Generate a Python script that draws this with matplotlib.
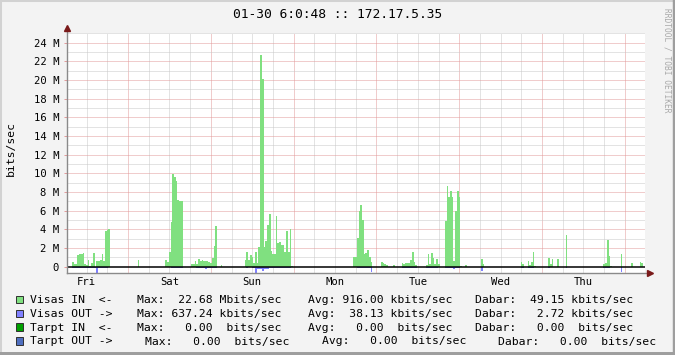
"""
Weekly traffic graph (rrdtool style) for 172.17.5.35.
"""

import numpy as np
import matplotlib
matplotlib.use("Agg")
import matplotlib.pyplot as plt
from matplotlib.patches import Rectangle
from matplotlib.lines import Line2D

plt.rcParams["font.family"] = ["DejaVu Sans Mono"]

title = "01-30 6:0:48 :: 172.17.5.35"
days = ["Fri", "Sat", "Sun", "Mon", "Tue", "Wed", "Thu"]
day_noons = [12, 36, 60, 84, 108, 132, 156]   # hours after first Friday 00:00
start_hour = 6.3      # first sample, hours after Friday 00:00
step_hours = 0.5      # 30 min samples

# Mbits/sec, 30 min averages, one row = 12 hours
visas_in = [
    0, 0, 0, 0.5, 0.3, 0.3, 1.25, 1.35, 1.35, 1.45, 0.3, 0.2, 0.75, 0.05, 0.4, 1.45, 0, 0.6, 0.6, 0.7, 1.35, 0.6, 3.85, 3.95,
    4.0, 0, 0, 0, 0, 0, 0, 0, 0, 0, 0, 0, 0, 0, 0, 0, 0, 0.75, 0, 0, 0, 0, 0, 0,
    0, 0, 0, 0, 0, 0, 0, 0, 0, 0.7, 0.55, 1.6, 4.8, 9.9, 9.6, 9.2, 7.1, 7.0, 7.0, 0, 0, 0, 0, 0,
    0.3, 0.3, 0.6, 0.3, 0.8, 0.6, 0.7, 0.6, 0.6, 0.6, 0.55, 0.4, 0.9, 2.2, 4.35, 0, 0, 0.2, 0, 0, 0, 0, 0, 0,
    0, 0, 0, 0, 0, 0, 0, 0.7, 1.57, 0.7, 1.2, 1.0, 0.43, 1.57, 0.43, 2.14, 22.68, 20.1, 2.14, 2.75, 4.5, 5.65, 1.7, 1.36,
    1.36, 5.4, 2.5, 2.64, 2.3, 2.3, 1.57, 3.86, 1.57, 4.0, 0.1, 0, 0, 0, 0, 0, 0, 0, 0, 0, 0, 0, 0, 0,
    0, 0, 0, 0, 0, 0, 0, 0, 0, 0, 0, 0, 0, 0, 0, 0, 0, 0, 0, 0, 0, 0, 1.0, 1.0,
    3.1, 6.0, 6.6, 5.0, 1.4, 1.5, 1.8, 1.0, 0.5, 0, 0, 0, 0, 0, 0.5, 0.35, 0.25, 0.18, 0, 0, 0, 0.18, 0, 0,
    0, 0, 0.4, 0.3, 0.35, 0.35, 0.4, 0.7, 1.57, 0.55, 0.2, 0, 0, 0, 0, 0, 0.2, 1.36, 0.3, 1.43, 0.96, 0.25, 0.8, 0.25,
    0, 0, 0, 4.9, 8.65, 7.5, 8.1, 7.5, 0.6, 6.0, 8.1, 7.5, 0.1, 0, 0, 0.2, 0, 0, 0, 0, 0, 0, 0, 0,
    0.8, 0.3, 0, 0, 0, 0, 0, 0, 0, 0, 0, 0, 0, 0, 0, 0, 0, 0, 0, 0, 0, 0, 0, 0.5,
    0.25, 0, 0, 0.6, 0.2, 0.55, 1.57, 0.1, 0, 0, 0, 0, 0, 0, 0, 0.96, 0.3, 0.8, 0, 0, 0.85, 0, 0, 0,
    0, 3.4, 0, 0, 0, 0, 0, 0, 0, 0, 0, 0, 0, 0, 0, 0, 0, 0, 0, 0, 0, 0, 0, 0.3,
    0.35, 2.86, 1.14, 0.1, 0, 0, 0, 0, 0, 1.36, 0, 0, 0, 0, 0, 0.43, 0, 0, 0, 0, 0.5, 0.36, 0, 0,
]
visas_out = [
    0, 0, 0, 0.13, 0.13, 0.13, 0.13, 0.13, 0.13, 0.13, 0.13, 0.13, 0.13, 0.13, 0.13, 0.13, 0.13, 0.64, 0.13, 0.13, 0.13, 0.13, 0.13, 0.13,
    0, 0, 0, 0, 0, 0, 0, 0, 0, 0, 0, 0, 0, 0, 0, 0, 0, 0, 0, 0, 0, 0, 0, 0,
    0, 0, 0, 0, 0, 0, 0, 0, 0, 0, 0, 0, 0.13, 0.13, 0.13, 0.13, 0.13, 0.13, 0.13, 0, 0, 0, 0, 0,
    0, 0, 0, 0.12, 0.12, 0.12, 0.12, 0.12, 0.2, 0.12, 0.12, 0.12, 0.12, 0.12, 0.12, 0, 0, 0, 0, 0, 0, 0, 0, 0,
    0, 0, 0, 0, 0, 0, 0, 0, 0.14, 0, 0, 0.12, 0.12, 0.64, 0.2, 0.2, 0.28, 0.43, 0.2, 0.2, 0.3, 0.14, 0.13, 0.13,
    0.13, 0.13, 0.13, 0.13, 0.13, 0.13, 0.13, 0.13, 0.13, 0.13, 0, 0, 0, 0, 0, 0, 0, 0, 0, 0, 0, 0, 0, 0,
    0, 0, 0, 0, 0, 0, 0, 0, 0, 0, 0, 0, 0, 0, 0, 0, 0, 0, 0, 0, 0, 0, 0, 0,
    0.13, 0.18, 0.13, 0.13, 0.18, 0.13, 0.13, 0.13, 0.54, 0, 0, 0, 0, 0, 0, 0, 0, 0, 0, 0, 0, 0, 0, 0,
    0, 0, 0.13, 0.13, 0.13, 0.13, 0.13, 0.13, 0.13, 0.13, 0.13, 0, 0, 0, 0, 0, 0.13, 0.13, 0.13, 0.13, 0.13, 0.13, 0.13, 0,
    0, 0, 0, 0.13, 0.13, 0.13, 0.13, 0.13, 0.2, 0.13, 0.13, 0.13, 0, 0, 0, 0, 0, 0, 0, 0, 0, 0, 0, 0,
    0.43, 0, 0, 0, 0, 0, 0, 0, 0, 0, 0, 0, 0, 0, 0, 0, 0, 0, 0, 0, 0, 0, 0, 0.12,
    0.1, 0, 0, 0.12, 0.12, 0.12, 0.12, 0, 0, 0, 0, 0, 0, 0, 0, 0.1, 0, 0, 0, 0, 0, 0, 0, 0,
    0, 0.1, 0, 0, 0, 0, 0, 0, 0, 0, 0, 0, 0, 0, 0, 0, 0, 0, 0, 0, 0, 0, 0, 0.13,
    0.13, 0.13, 0.13, 0, 0, 0, 0, 0, 0, 0.57, 0, 0, 0, 0, 0, 0, 0, 0, 0, 0, 0, 0, 0, 0,
]

legend_names = ["Visas IN  <-", "Visas OUT ->", "Tarpt IN  <-", "Tarpt OUT ->"]
legend_colors = ["#80E080", "#8080FF", "#00A000", "#4F6FBF"]
max_txt = ["Max:  22.68 Mbits/sec", "Max: 637.24 kbits/sec", "Max:   0.00  bits/sec", "Max:   0.00  bits/sec"]
avg_txt = ["Avg: 916.00 kbits/sec", "Avg:  38.13 kbits/sec", "Avg:   0.00  bits/sec", "Avg:   0.00  bits/sec"]
now_txt = ["Dabar:  49.15 kbits/sec", "Dabar:   2.72 kbits/sec", "Dabar:   0.00  bits/sec", "Dabar:   0.00  bits/sec"]

W, H = 675, 355
BG = "#F3F3F3"
MAJOR = "#E39A9A"
MINOR = "#C8C8C8"
AXIS = "#8A8A8A"
ARROW = "#7A1A1A"


def fpos(x, y):
    # pixel position (top-left origin) -> figure fraction
    return x / W, 1 - y / H


fig = plt.figure(figsize=(W / 100, H / 100), dpi=100, facecolor=BG)
left, right, top, bottom = 67, 645, 33, 273.3
ax = fig.add_axes([left / W, 1 - bottom / H, (right - left) / W, (bottom - top) / H])
ax.set_facecolor("white")
for s in ax.spines.values():
    s.set_visible(False)

edges = start_hour + step_hours * np.arange(len(visas_in) + 1)
x0, x1 = start_hour, start_hour + (right - left) / 3.45
ax.set_xlim(x0, x1)
ax.set_ylim(-0.71, 25.05)

# dotted grid, red at midnight / every 2 M
dot = (0, (1, 1))
for h in range(0, 180, 6):
    if x0 < h < x1:
        ax.axvline(h, color=MAJOR if h % 24 == 0 else MINOR, lw=0.72, ls=dot, zorder=1)
for v in range(1, 26):
    ax.axhline(v, color=MAJOR if v % 2 == 0 else MINOR, lw=0.72, ls=dot, zorder=1)

ax.stairs(visas_in, edges, baseline=0, fill=True, color=legend_colors[0], lw=0, zorder=2)
ax.stairs(-np.array(visas_out), edges, baseline=0, fill=True, color=legend_colors[1], lw=0, zorder=2)
ax.axhline(0, color="black", lw=1.1, zorder=3)

# axes with arrows
ax.plot([0, 0], [0, 1.012], transform=ax.transAxes, color=AXIS, lw=1, clip_on=False, zorder=4)
ax.plot([0, 1.005], [0, 0], transform=ax.transAxes, color=AXIS, lw=1, clip_on=False, zorder=4)
ax.plot(0, 1.02, marker="^", ms=4.2, color=ARROW, transform=ax.transAxes, clip_on=False, zorder=5)
ax.plot(1.009, 0, marker=">", ms=4.2, color=ARROW, transform=ax.transAxes, clip_on=False, zorder=5)

yt = list(range(0, 25, 2))
ax.set_yticks(yt, ["0" if v == 0 else f"{v} M" for v in yt])
ax.tick_params(axis="y", length=2, width=0.7, color=MAJOR, pad=3.6, labelsize=7.6)
ax.set_xticks(day_noons, days)
ax.tick_params(axis="x", length=0, pad=3, labelsize=7.6)

fig.text(*fpos(337.5, 18.3), title, ha="center", va="baseline", fontsize=9.3)
fig.text(*fpos(11, 148.5), "bits/sec", rotation=90, ha="center", va="center", fontsize=8.2)
fig.text(*fpos(666.5, 60.5), "RRDTOOL / TOBI OETIKER", rotation=270, ha="center", va="center",
         fontsize=5.7, color="#A8A8A8")

# legend block
for i in range(4):
    base = 303.4 + 13.7 * i
    sx, sy = fpos(16, base)
    fig.add_artist(Rectangle((sx, sy), 7.3 / W, 7.3 / H, transform=fig.transFigure,
                             fc=legend_colors[i], ec="#303030", lw=0.7))
    fig.text(*fpos(30.5, base), legend_names[i], va="baseline", fontsize=8.2)
    cols = (145.2, 322, 498) if i == 3 else (136.8, 307.5, 475.2)
    for cx, txt in zip(cols, (max_txt[i], avg_txt[i], now_txt[i])):
        fig.text(*fpos(cx, base), txt, va="baseline", fontsize=8.2)

# 3d-ish frame
fig.add_artist(Line2D([0, 1], [1, 1], transform=fig.transFigure, color="#D2D2D2", lw=2.9))
fig.add_artist(Line2D([0, 0], [0, 1], transform=fig.transFigure, color="#D2D2D2", lw=2.9))
fig.add_artist(Line2D([0, 1], [0, 0], transform=fig.transFigure, color="#9E9E9E", lw=4.3))
fig.add_artist(Line2D([1, 1], [0, 1], transform=fig.transFigure, color="#9E9E9E", lw=3.2))

fig.savefig("out.png", dpi=100, facecolor=BG)
